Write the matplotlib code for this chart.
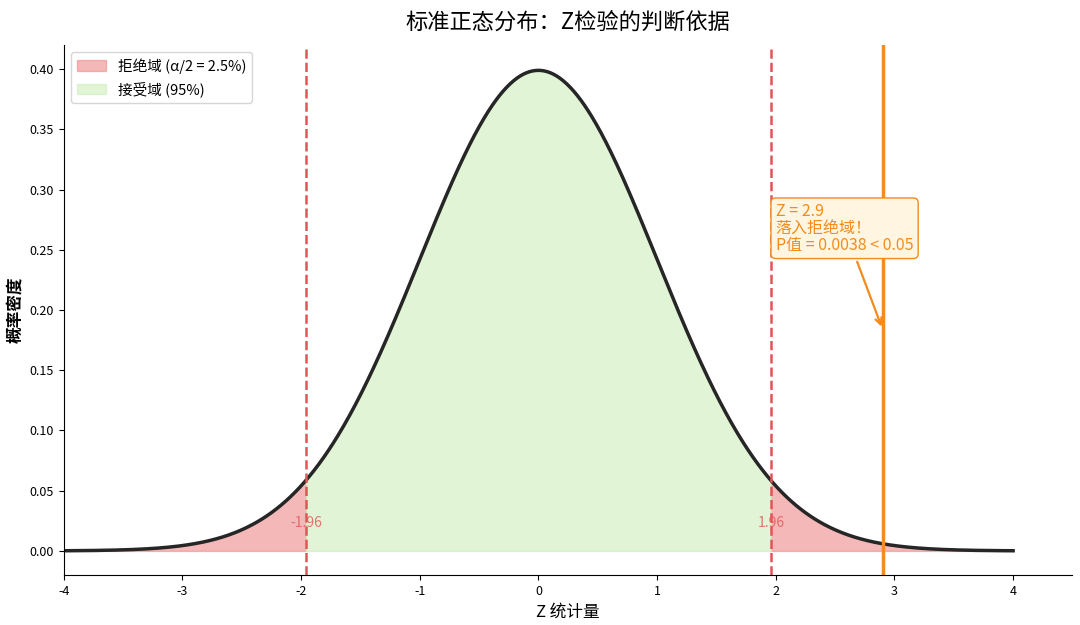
import numpy as np
import matplotlib
matplotlib.use('Agg')
from matplotlib import pyplot as plt

plt.rcParams['font.family'] = ['Noto Sans CJK SC', 'DejaVu Sans']
plt.rcParams['axes.unicode_minus'] = False

# data
mu, sigma = 0.0, 1.0
z_crit = 1.96
z_obs = 2.9
p_value = 0.0038
alpha = 0.05
x = np.linspace(-4, 4, 801)
y = np.exp(-0.5 * ((x - mu) / sigma) ** 2) / (sigma * np.sqrt(2 * np.pi))

red = '#e05555'
orange = '#f28c1e'

fig, ax = plt.subplots(figsize=(10.8, 6.25), dpi=100)
fig.subplots_adjust(left=0.059, right=0.993, top=0.928, bottom=0.08)

ax.fill_between(x, y, where=(x <= -z_crit), color='#ee8a8a', alpha=0.6,
                label='拒绝域 (α/2 = 2.5%)')
ax.fill_between(x, y, where=(x >= z_crit), color='#ee8a8a', alpha=0.6)
ax.fill_between(x, y, where=(x >= -z_crit) & (x <= z_crit), color='#cdeebc',
                alpha=0.6, label='接受域 (95%)')
ax.plot(x, y, color='#262626', lw=2.5)

ax.axvline(-z_crit, color=red, ls='--', lw=1.8)
ax.axvline(z_crit, color=red, ls='--', lw=1.8)
ax.text(-z_crit, 0.02, f'-{z_crit}', color=red, ha='center', fontsize=10, alpha=0.8)
ax.text(z_crit, 0.02, f'{z_crit}', color=red, ha='center', fontsize=10, alpha=0.8)

ax.axvline(z_obs, color=orange, lw=2.5)
ax.annotate(f'Z = {z_obs}\n落入拒绝域！\nP值 = {p_value} < {alpha}',
            xy=(z_obs, 0.184), xytext=(2.0, 0.25),
            color=orange, fontsize=11.5, linespacing=1.0,
            bbox=dict(boxstyle='round,pad=0.3', fc='#fff5e0', ec=orange, lw=1),
            arrowprops=dict(arrowstyle='->', color=orange, lw=1.6))

ax.set_xlim(-4, 4.5)
ax.set_ylim(-0.02, 0.42)
ax.set_yticks(np.arange(0, 0.41, 0.05))
ax.yaxis.set_major_formatter(matplotlib.ticker.FormatStrFormatter('%.2f'))
ax.tick_params(labelsize=9)
ax.spines['top'].set_visible(False)
ax.spines['right'].set_visible(False)

ax.set_title('标准正态分布：Z检验的判断依据', fontsize=16, fontweight='medium', pad=12)
ax.set_xlabel('Z 统计量', fontsize=12)
ax.set_ylabel('概率密度', fontsize=12, fontweight='bold')
ax.legend(loc='upper left', fontsize=10.5)

plt.savefig('out.png')
